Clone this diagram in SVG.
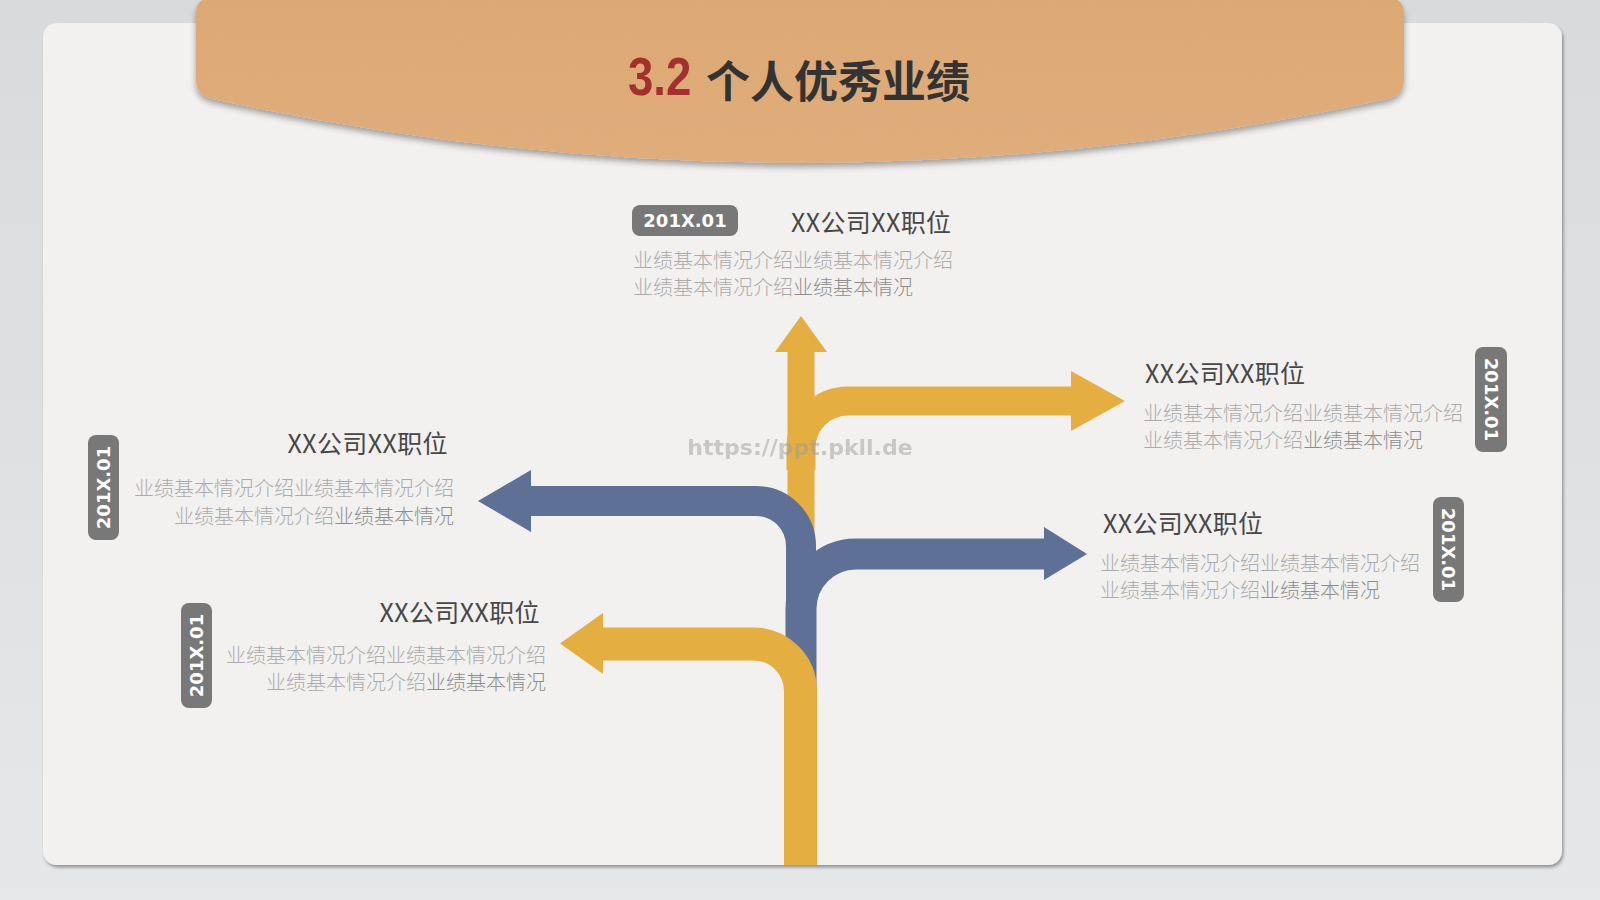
<svg xmlns="http://www.w3.org/2000/svg" width="1600" height="900" viewBox="0 0 1600 900">
  <defs>
    <linearGradient id="bg" x1="0" y1="0" x2="0" y2="1">
      <stop offset="0" stop-color="#D9DADB"/>
      <stop offset="1" stop-color="#E6E7E8"/>
    </linearGradient>
    <linearGradient id="kraft" x1="0" y1="0" x2="0" y2="1">
      <stop offset="0" stop-color="#DFAA76"/>
      <stop offset="1" stop-color="#E3AF7C"/>
    </linearGradient>
    <filter id="cardShadow" x="-5%" y="-5%" width="110%" height="110%">
      <feDropShadow dx="1.5" dy="2.5" stdDeviation="1.5" flood-color="#000" flood-opacity="0.35"/>
    </filter>
    <filter id="tabShadow" x="-5%" y="-20%" width="110%" height="150%">
      <feDropShadow dx="0" dy="4" stdDeviation="3" flood-color="#000" flood-opacity="0.35"/>
    </filter>
    <filter id="grain" x="0" y="0" width="100%" height="100%">
      <feTurbulence type="fractalNoise" baseFrequency="0.9" numOctaves="2" seed="3" result="n"/>
      <feColorMatrix in="n" type="matrix" values="0 0 0 0 0.45  0 0 0 0 0.3  0 0 0 0 0.15  0 0 0 0.35 -0.05" result="c"/>
      <feComposite in="c" in2="SourceGraphic" operator="in"/>
    </filter>
    <style>
      .cjk { font-family: "Noto Sans CJK SC", "Noto Sans", sans-serif; }
      .head { font-family: "Noto Sans CJK SC", "Noto Sans", sans-serif; font-size: 25px; font-weight: 400; fill: #474747; letter-spacing: 0.4px; }
      .body { font-family: "Noto Sans CJK SC", "Noto Sans", sans-serif; font-size: 20px; font-weight: 300; fill: #ABABAB; }
      .dark { fill: #8E8E8E; }
      .badge { fill: #787878; }
      .badgeText { font-family: "DejaVu Sans", sans-serif; font-size: 18px; font-weight: 700; fill: #FFFFFF; }
      .yel { fill: none; stroke: #E5AE40; stroke-linecap: butt; }
      .blu { fill: none; stroke: #5E7096; stroke-linecap: butt; }
      .yelF { fill: #E5AE40; }
      .bluF { fill: #5E7096; }
    </style>
  </defs>

  <!-- background -->
  <rect x="0" y="0" width="1600" height="900" fill="url(#bg)"/>
  <rect x="43" y="23" width="1519" height="842" rx="14" fill="#F2F1F0" filter="url(#cardShadow)"/>

  <!-- title tab -->
  <g id="title">
    <path d="M196,14 Q196,-2 212,-2 H1388 Q1404,-2 1404,14 V80 C1404,92 1397,97 1385,99.5 Q800,226.5 215,99.5 C203,97 196,92 196,80 Z" fill="url(#kraft)" filter="url(#tabShadow)"/>
    <path d="M196,14 Q196,-2 212,-2 H1388 Q1404,-2 1404,14 V80 C1404,92 1397,97 1385,99.5 Q800,226.5 215,99.5 C203,97 196,92 196,80 Z" fill="#000" filter="url(#grain)" opacity="0.5"/>
    <text transform="translate(628,95) scale(0.86,1)" x="0" y="0" font-family="'Liberation Sans', 'DejaVu Sans', sans-serif" font-size="53" font-weight="700" fill="#A3302E">3.2</text>
    <text x="706" y="98" class="cjk" font-size="44" font-weight="700" fill="#333333">个人优秀业绩</text>
  </g>

  <!-- connectors (arrows) -->
  <g id="connectors">
    <!-- upper yellow: up arrow + right branch -->
    <path class="yel" stroke-width="27" d="M801,565 V350"/>
    <polygon class="yelF" points="775,352 801,316 827,352"/>
    <path class="yel" stroke-width="29" d="M801,470 V448 A47,47 0 0 1 848,401 H1073"/>
    <polygon class="yelF" points="1071,371 1125,401 1071,431"/>
    <!-- blue: left and right branches -->
    <path class="blu" stroke-width="30" d="M801,720 V546 A45,45 0 0 0 756,501 H529"/>
    <polygon class="bluF" points="531,470 478,501 531,532"/>
    <path class="blu" stroke-width="31" d="M801,720 V609 A55,55 0 0 1 856,554 H1046"/>
    <polygon class="bluF" points="1044,527 1087,554 1044,580"/>
    <!-- lower yellow: trunk + left branch -->
    <path class="yel" stroke-width="33" d="M800.5,865 V691 A47,47 0 0 0 753.5,644 H601"/>
    <polygon class="yelF" points="603,613 560,643.5 603,674"/>
  </g>

  <!-- watermark -->
  <text x="800" y="455" text-anchor="middle" font-family="'DejaVu Sans', sans-serif" font-size="22" font-weight="700" fill="#9E9E9E" opacity="0.5">https://ppt.pkll.de</text>

  <!-- node: top -->
  <g id="node-top">
    <rect class="badge" x="632" y="205" width="106" height="31" rx="8"/>
    <text class="badgeText" x="685" y="227" text-anchor="middle">201X.01</text>
    <text class="head" x="791" y="232">XX公司XX职位</text>
    <text class="body" x="633" y="268">业绩基本情况介绍业绩基本情况介绍</text>
    <text class="body" x="633" y="295">业绩基本情况介绍<tspan class="dark">业绩基本情况</tspan></text>
  </g>

  <!-- node: right top -->
  <g id="node-right-top">
    <rect class="badge" x="1475" y="347" width="32" height="105" rx="8"/>
    <text class="badgeText" text-anchor="middle" transform="translate(1491,399.5) rotate(90)" x="0" y="6.5">201X.01</text>
    <text class="head" x="1145" y="383">XX公司XX职位</text>
    <text class="body" x="1143" y="421">业绩基本情况介绍业绩基本情况介绍</text>
    <text class="body" x="1143" y="448">业绩基本情况介绍<tspan class="dark">业绩基本情况</tspan></text>
  </g>

  <!-- node: right middle -->
  <g id="node-right-mid">
    <rect class="badge" x="1433" y="497" width="31" height="105" rx="8"/>
    <text class="badgeText" text-anchor="middle" transform="translate(1448.5,549.5) rotate(90)" x="0" y="6.5">201X.01</text>
    <text class="head" x="1103" y="533">XX公司XX职位</text>
    <text class="body" x="1100" y="571">业绩基本情况介绍业绩基本情况介绍</text>
    <text class="body" x="1100" y="598">业绩基本情况介绍<tspan class="dark">业绩基本情况</tspan></text>
  </g>

  <!-- node: left upper -->
  <g id="node-left-upper">
    <rect class="badge" x="88" y="435" width="31" height="105" rx="8"/>
    <text class="badgeText" text-anchor="middle" transform="translate(103.5,487.5) rotate(-90)" x="0" y="6.5">201X.01</text>
    <text class="head" x="448" y="453" text-anchor="end">XX公司XX职位</text>
    <text class="body" x="454" y="496" text-anchor="end">业绩基本情况介绍业绩基本情况介绍</text>
    <text class="body" x="454" y="524" text-anchor="end">业绩基本情况介绍<tspan class="dark">业绩基本情况</tspan></text>
  </g>

  <!-- node: left lower -->
  <g id="node-left-lower">
    <rect class="badge" x="181" y="603" width="31" height="105" rx="8"/>
    <text class="badgeText" text-anchor="middle" transform="translate(196.5,655.5) rotate(-90)" x="0" y="6.5">201X.01</text>
    <text class="head" x="540" y="622" text-anchor="end">XX公司XX职位</text>
    <text class="body" x="546" y="663" text-anchor="end">业绩基本情况介绍业绩基本情况介绍</text>
    <text class="body" x="546" y="690" text-anchor="end">业绩基本情况介绍<tspan class="dark">业绩基本情况</tspan></text>
  </g>
</svg>
